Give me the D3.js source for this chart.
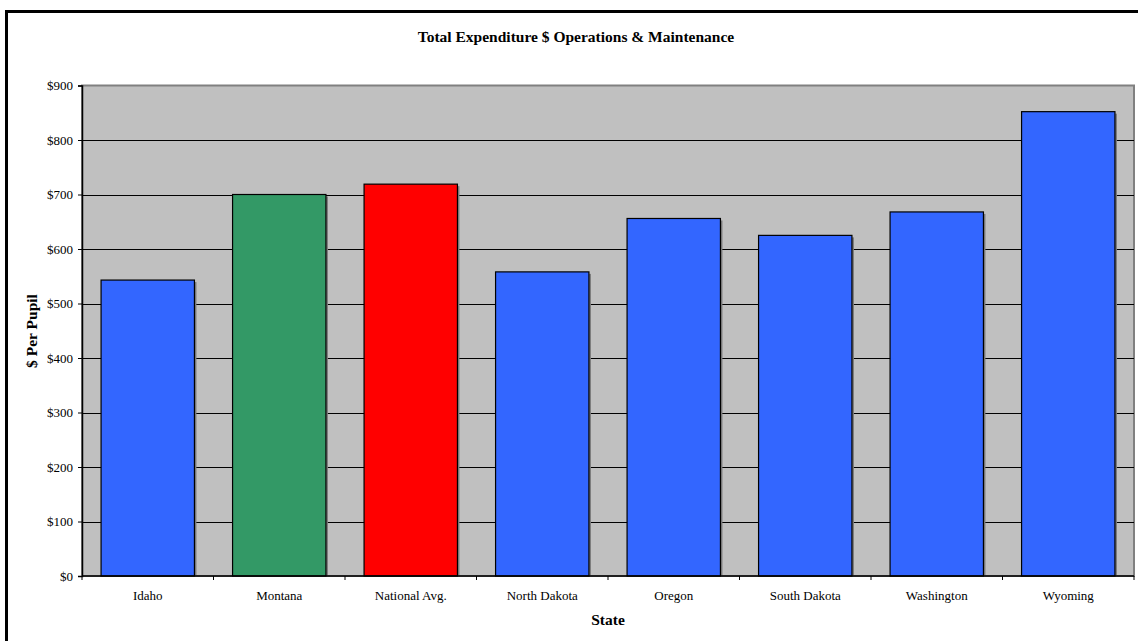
<!DOCTYPE html>
<html>
<head>
<meta charset="utf-8">
<script src="https://cdn.jsdelivr.net/npm/d3@7"></script>
<style>
  html, body { margin: 0; padding: 0; background: #fff; }
  svg { display: block; }
</style>
</head>
<body>
<div id="chart"></div>
<script>
// ── Data ───────────────────────────────────────────────────────────────
const states = ["Idaho", "Montana", "National Avg.", "North Dakota", "Oregon", "South Dakota", "Washington", "Wyoming"];
const perPupil = [543, 700, 719, 558, 656, 625, 668, 852];
const barColors = ["#3366ff", "#339966", "#ff0000", "#3366ff", "#3366ff", "#3366ff", "#3366ff", "#3366ff"];
const yTicks = [0, 100, 200, 300, 400, 500, 600, 700, 800, 900];

const W = 1138, H = 641;
const m = { left: 82, right: 1134, top: 85.5, bottom: 576 };
const FONT = "Liberation Serif, Times New Roman, serif";

const svg = d3.select("#chart").append("svg").attr("width", W).attr("height", H)
  .attr("font-family", FONT);

// outer chart border (right/bottom run off the picture)
svg.append("rect").attr("x", 6.5).attr("y", 11.5).attr("width", W + 20).attr("height", H + 20)
  .attr("fill", "#fff").attr("stroke", "#000").attr("stroke-width", 3);

const x = d3.scaleBand().domain(states).range([m.left, m.right]).paddingInner(0.29).paddingOuter(0.145);
const y = d3.scaleLinear().domain([0, 900]).range([m.bottom, m.top]);

// plot area
svg.append("rect").attr("x", m.left).attr("y", m.top).attr("width", m.right - m.left).attr("height", m.bottom - m.top)
  .attr("fill", "#c0c0c0").attr("stroke", "#808080").attr("stroke-width", 2);

// gridlines
svg.append("g").selectAll("line").data(yTicks.filter(t => t > 0 && t < 900)).join("line")
  .attr("x1", m.left).attr("x2", m.right)
  .attr("y1", d => Math.round(y(d)) + 0.5).attr("y2", d => Math.round(y(d)) + 0.5)
  .attr("stroke", "#000").attr("stroke-width", 1);

// bars + slight shadow
const bars = svg.append("g");
bars.selectAll("rect.shadow").data(states).join("rect").attr("class", "shadow")
  .attr("x", d => x(d) + 2).attr("y", (d, i) => y(perPupil[i]) + 2)
  .attr("width", x.bandwidth()).attr("height", (d, i) => m.bottom - y(perPupil[i]) - 2)
  .attr("fill", "#7a7a7a");
bars.selectAll("rect.bar").data(states).join("rect").attr("class", "bar")
  .attr("x", d => x(d)).attr("y", (d, i) => y(perPupil[i]))
  .attr("width", x.bandwidth()).attr("height", (d, i) => m.bottom - y(perPupil[i]))
  .attr("fill", (d, i) => barColors[i]).attr("stroke", "#000").attr("stroke-width", 1.2);

// y axis
const yAxis = svg.append("g").attr("transform", `translate(${m.left},0)`)
  .call(d3.axisLeft(y).tickValues(yTicks).tickFormat(d => "$" + d).tickSize(4).tickPadding(5));
yAxis.attr("font-family", FONT).attr("font-size", 13);
yAxis.select(".domain").attr("stroke", "#000").attr("stroke-width", 1.5);
yAxis.selectAll("text").attr("fill", "#000");

// x axis line + ticks between categories
const bounds = d3.range(states.length + 1).map(i => m.left + i * (m.right - m.left) / states.length);
svg.append("line").attr("x1", m.left).attr("x2", m.right).attr("y1", m.bottom).attr("y2", m.bottom)
  .attr("stroke", "#000").attr("stroke-width", 1.5);
svg.append("g").selectAll("line").data(bounds).join("line")
  .attr("x1", d => d).attr("x2", d => d).attr("y1", m.bottom).attr("y2", m.bottom + 4)
  .attr("stroke", "#000");
svg.append("g").attr("font-family", FONT).selectAll("text").data(states).join("text")
  .attr("x", d => x(d) + x.bandwidth() / 2).attr("y", 600)
  .attr("text-anchor", "middle").attr("font-size", 13).text(d => d);

// titles
const titles = svg.append("g").attr("font-family", FONT).attr("font-weight", "bold").attr("font-size", 15.5);
titles.append("text").attr("x", 576).attr("y", 42).attr("text-anchor", "middle")
  .text("Total Expenditure $ Operations & Maintenance");
titles.append("text").attr("x", 608).attr("y", 625).attr("text-anchor", "middle").text("State");
titles.append("text").attr("transform", "translate(37,331) rotate(-90)").attr("text-anchor", "middle")
  .text("$ Per Pupil");
</script>
</body>
</html>
